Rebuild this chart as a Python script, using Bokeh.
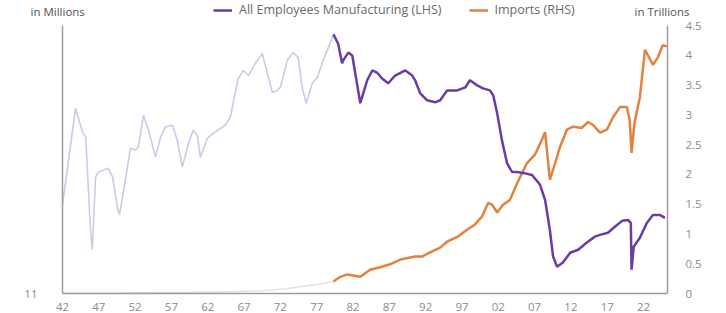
from bokeh.plotting import figure
from bokeh.layouts import column
from bokeh.models import Range1d, LinearAxis, FixedTicker, Legend, LegendItem
from bokeh.core.properties import value
from bokeh.embed import file_html
from bokeh.resources import INLINE

# All Employees Manufacturing (millions, LHS)
mfg_years = [1942.0, 1943.8, 1944.75, 1945.2, 1945.85, 1946.1, 1946.55, 1946.95, 1947.65, 1948.3,
             1948.9, 1949.55, 1949.85, 1950.65, 1951.35, 1952.05, 1952.45, 1953.15, 1953.85, 1954.8,
             1955.5, 1956.15, 1957.15, 1957.8, 1958.5, 1959.35, 1960.0, 1960.55, 1961.0, 1961.95,
             1962.75, 1964.4, 1965.1, 1966.2, 1966.9, 1967.6, 1968.55, 1969.5, 1970.35, 1970.9,
             1971.55, 1972.0, 1972.95, 1973.75, 1974.45, 1975.0, 1975.55, 1976.4, 1977.1, 1977.9,
             1979.15, 1979.3, 1979.95, 1980.5, 1980.65, 1981.35, 1981.9, 1983.0, 1983.95, 1984.65,
             1985.3, 1986.0, 1986.85, 1987.8, 1989.2, 1990.15, 1990.55, 1991.25, 1992.2, 1993.3,
             1994.0, 1994.95, 1996.35, 1997.45, 1998.1, 1999.1, 1999.9, 2000.85, 2001.3, 2001.85,
             2002.5, 2003.2, 2003.9, 2004.6, 2005.4, 2006.65, 2007.75, 2008.45, 2009.1, 2009.55,
             2010.1, 2010.9, 2011.9, 2013.0, 2014.2, 2015.3, 2016.0, 2017.1, 2018.05, 2019.05,
             2019.85, 2020.25, 2020.35, 2020.65, 2021.5, 2022.45, 2023.3, 2024.25, 2024.95]
mfg_values = [13.98, 17.22, 16.42, 16.25, 13.14, 12.47, 14.91, 15.08, 15.15, 15.21,
              14.91, 13.91, 13.64, 14.81, 15.88, 15.82, 15.92, 16.99, 16.48, 15.58,
              16.25, 16.59, 16.65, 16.15, 15.25, 16.05, 16.48, 16.32, 15.58, 16.22,
              16.38, 16.65, 16.92, 18.22, 18.49, 18.32, 18.73, 19.06, 18.26, 17.76,
              17.82, 17.92, 18.83, 19.09, 18.93, 17.92, 17.39, 18.06, 18.26, 18.83,
              19.60, 19.70, 19.39, 18.73, 18.83, 19.09, 18.99, 17.39, 18.16, 18.49,
              18.42, 18.22, 18.06, 18.32, 18.49, 18.32, 18.16, 17.72, 17.49, 17.42,
              17.49, 17.82, 17.82, 17.92, 18.16, 17.99, 17.89, 17.82, 17.66, 17.05,
              16.15, 15.38, 15.08, 15.08, 15.05, 14.98, 14.65, 14.14, 13.14, 12.24,
              11.90, 12.04, 12.37, 12.47, 12.71, 12.91, 12.97, 13.04, 13.24, 13.44,
              13.47, 13.37, 11.80, 12.57, 12.87, 13.37, 13.64, 13.64, 13.54]

# Imports (trillions, RHS)
imp_years = [1942.0, 1950.0, 1955.0, 1960.0, 1965.0, 1968.0, 1971.0, 1974.0, 1977.0, 1979.3,
             1980.25, 1981.2, 1983.0, 1984.35, 1985.75, 1987.1, 1988.5, 1990.55, 1991.5, 1992.6,
             1994.0, 1994.95, 1996.35, 1997.7, 1998.8, 1999.75, 2000.6, 2001.15, 2001.85, 2002.65,
             2003.6, 2004.6, 2005.95, 2007.05, 2008.0, 2008.45, 2009.1, 2009.55, 2010.5, 2011.45,
             2012.3, 2013.5, 2014.35, 2015.05, 2016.0, 2016.95, 2017.8, 2018.75, 2019.7, 2020.1,
             2020.35, 2020.75, 2021.5, 2022.2, 2022.6, 2023.3, 2024.0, 2024.65, 2025.2]
imp_values = [0.005, 0.01, 0.015, 0.02, 0.03, 0.04, 0.06, 0.10, 0.15, 0.20,
              0.28, 0.32, 0.28, 0.40, 0.44, 0.49, 0.57, 0.62, 0.62, 0.69,
              0.77, 0.87, 0.95, 1.07, 1.16, 1.29, 1.52, 1.49, 1.36, 1.49,
              1.57, 1.85, 2.19, 2.33, 2.58, 2.71, 1.91, 2.08, 2.46, 2.75,
              2.80, 2.78, 2.88, 2.83, 2.70, 2.75, 2.96, 3.13, 3.13, 2.91,
              2.36, 2.86, 3.30, 4.09, 4.00, 3.84, 3.97, 4.17, 4.15]

x_ticks = [1942, 1947, 1952, 1957, 1962, 1967, 1972, 1977, 1982, 1987, 1992, 1997, 2002, 2007, 2012, 2017, 2022]
right_ticks = [0, 0.5, 1, 1.5, 2, 2.5, 3, 3.5, 4, 4.5]
left_ticks = [11]
split_year = 1979.3

series_names = ["All Employees Manufacturing (LHS)", "Imports (RHS)"]
axis_titles = ["in Millions", "in Trillions"]

FONT = "Open Sans"
AX = "#9d9d9d"
TXT = "#8c8c8c"
PURPLE = "#6a3ca6"
ORANGE = "#e3823f"
NAN = float("nan")

# ---------- header: axis titles and legend ----------
HEAD_H = 19
head = figure(width=726, height=HEAD_H, output_backend="svg", toolbar_location=None,
              x_range=Range1d(0, 726), y_range=Range1d(HEAD_H, 0),
              x_axis_type=None, y_axis_type=None,
              min_border=0, min_border_left=0, min_border_right=0,
              min_border_top=0, min_border_bottom=0)
head.frame_align = False
head.grid.visible = False
head.outline_line_color = None
head.text(x=[30, 634], y=[11, 11], text=axis_titles, text_font=value(FONT),
          text_font_size="11.5px", text_color="#555555", text_baseline="middle")
r_p = head.line([NAN], [NAN], line_color=PURPLE, line_width=2.5)
r_o = head.line([NAN], [NAN], line_color=ORANGE, line_width=2.5)
legend = Legend(items=[LegendItem(label=series_names[0], renderers=[r_p]),
                       LegendItem(label=series_names[1], renderers=[r_o])],
                orientation="horizontal", location=(213, 1),
                padding=0, margin=0, spacing=27, label_standoff=7,
                glyph_width=19, glyph_height=12, label_height=12,
                label_text_font=FONT, label_text_font_size="12.5px", label_text_color="#6a6a6a",
                background_fill_alpha=0, border_line_color=None)
head.add_layout(legend)

# ---------- main chart ----------
p = figure(width=726, height=313 - HEAD_H, output_backend="svg", toolbar_location=None,
           x_range=Range1d(1942, 2025.3), y_range=Range1d(11, 20),
           min_border_left=62, min_border_right=59, min_border_top=6, min_border_bottom=19)
p.frame_align = False
p.extra_y_ranges = {"right": Range1d(0, 4.5)}
p.grid.visible = False
p.outline_line_color = None

mx_old = [x for x in mfg_years if x <= split_year]
my_old = [v for x, v in zip(mfg_years, mfg_values) if x <= split_year]
mx_new = [x for x in mfg_years if x >= split_year]
my_new = [v for x, v in zip(mfg_years, mfg_values) if x >= split_year]
ix_old = [x for x in imp_years if x <= split_year]
iy_old = [v for x, v in zip(imp_years, imp_values) if x <= split_year]
ix_new = [x for x in imp_years if x >= split_year]
iy_new = [v for x, v in zip(imp_years, imp_values) if x >= split_year]

p.line(ix_old, iy_old, y_range_name="right", line_color="#e9e2dc", line_width=1.5)
p.line(mx_old, my_old, line_color="#cdc9e6", line_width=1.6)
p.line(ix_new, iy_new, y_range_name="right", line_color=ORANGE, line_width=2.5)
p.line(mx_new, my_new, line_color=PURPLE, line_width=2.5)

def style(ax):
    ax.axis_line_color = AX
    ax.axis_line_width = 1.5
    ax.major_tick_line_color = None
    ax.minor_tick_line_color = None
    ax.major_label_text_color = TXT
    ax.major_label_text_font = FONT
    ax.major_label_text_font_size = "11.5px"

xa = p.xaxis[0]
xa.ticker = FixedTicker(ticks=x_ticks)
xa.major_label_overrides = {t: str(t)[2:] for t in x_ticks}
xa.major_label_standoff = 3
style(xa)

ya = p.yaxis[0]
ya.ticker = FixedTicker(ticks=left_ticks)
ya.major_label_standoff = 19
style(ya)

ra = LinearAxis(y_range_name="right", ticker=FixedTicker(ticks=right_ticks))
ra.major_label_overrides = {t: ("%g" % t) for t in right_ticks}
ra.major_label_standoff = 12
style(ra)
p.add_layout(ra, "right")

layout = column(head, p, spacing=0)
open("out.html", "w").write(file_html(layout, INLINE))
